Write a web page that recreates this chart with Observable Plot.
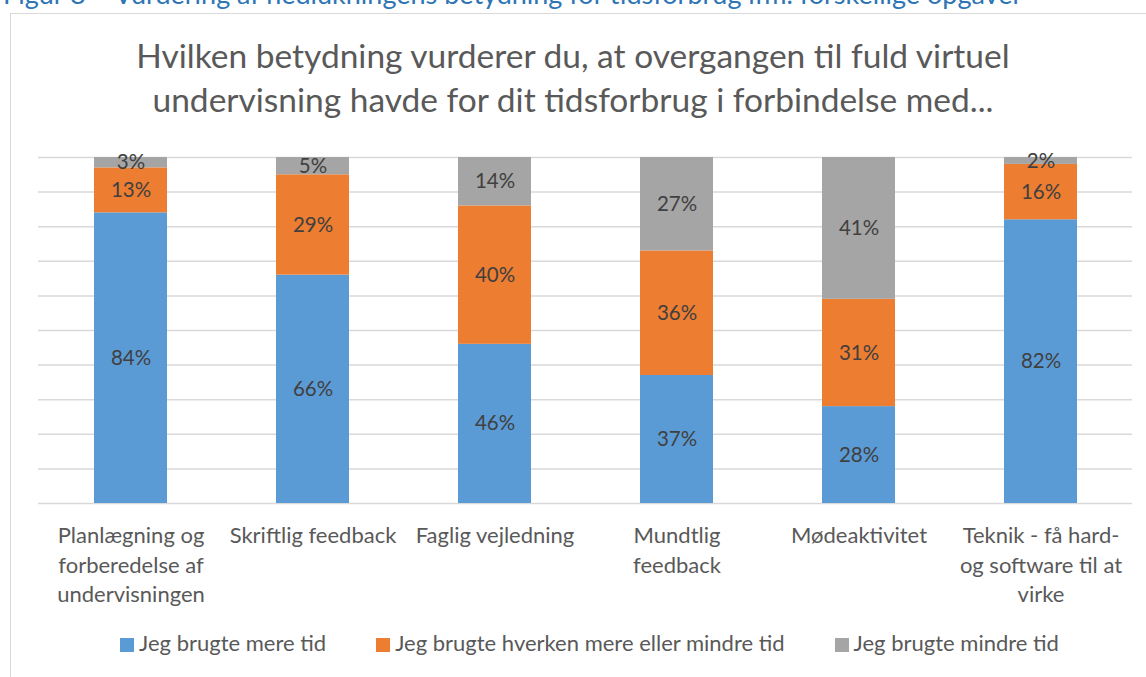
<!DOCTYPE html>
<html><head><meta charset="utf-8">
<script src="https://cdn.jsdelivr.net/npm/d3@7"></script>
<script src="https://cdn.jsdelivr.net/npm/@observablehq/plot@0.6"></script>
<style>
body{margin:0;background:#fff;}
#wrap{position:relative;width:1146px;height:677px;overflow:hidden;font-family:Lato,"Open Sans",sans-serif;background:#fff;}
#caption{position:absolute;left:3px;top:-23px;font-size:27px;line-height:normal;color:#2E75B6;white-space:nowrap;}
#frame{position:absolute;left:10px;top:13px;width:1200px;height:700px;border:1.5px solid #d9d9d9;box-sizing:border-box;}
#title{position:absolute;left:0;top:33px;width:1146px;text-align:center;font-size:33.5px;line-height:44px;color:#595959;}
#chart{position:absolute;left:0;top:140px;}
#legend{position:absolute;left:33px;top:630px;width:1113px;display:flex;justify-content:center;gap:50px;font-size:22px;line-height:26px;color:#595959;}
#legend .item{display:flex;align-items:center;gap:5px;}
#legend .sw{width:14px;height:14px;display:inline-block;margin-top:3px;}
</style></head><body>
<div id="wrap">
<div id="caption">Figur 8 – Vurdering af nedlukningens betydning for tidsforbrug ifm. forskellige opgaver</div>
<div id="frame"></div>
<div id="title">Hvilken betydning vurderer du, at overgangen til fuld virtuel<br>undervisning havde for dit tidsforbrug i forbindelse med...</div>
<div id="chart"></div>
<div id="legend"></div>
</div>
<script>
const categories = ["Planlægning og forberedelse af undervisningen","Skriftlig feedback","Faglig vejledning","Mundtlig feedback","Mødeaktivitet","Teknik - få hard- og software til at virke"];
const tickLabels = ["Planlægning og\nforberedelse af\nundervisningen","Skriftlig feedback","Faglig vejledning","Mundtlig\nfeedback","Mødeaktivitet","Teknik - få hard-\nog software til at\nvirke"];
const seriesNames = ["Jeg brugte mere tid","Jeg brugte hverken mere eller mindre tid","Jeg brugte mindre tid"];
const seriesColors = ["#5B9BD5","#ED7D31","#A5A5A5"];
const moreTime = [84,66,46,37,28,82];
const neitherTime = [13,29,40,36,31,16];
const lessTime = [3,5,14,27,41,2];
const gridTicks = [0,10,20,30,40,50,60,70,80,90,100];

const seriesValues = [moreTime, neitherTime, lessTime];
const data = [];
seriesNames.forEach((s, si) => categories.forEach((c, ci) => data.push({category: c, series: s, value: seriesValues[si][ci]})));

const chart = Plot.plot({
  width: 1146, height: 470,
  marginTop: 17, marginBottom: 107, marginLeft: 38, marginRight: 14,
  style: {fontFamily: "Lato, 'Open Sans', sans-serif", fontSize: "22px", background: "transparent"},
  x: {domain: categories, paddingInner: 0.6, paddingOuter: 0.3, label: null},
  y: {domain: [0, 100], axis: null},
  color: {domain: seriesNames, range: seriesColors},
  marks: [
    Plot.ruleY(gridTicks, {stroke: "#d9d9d9", strokeWidth: 1.5}),
    Plot.barY(data, {x: "category", y: "value", fill: "series"}),
    Plot.text(data, Plot.stackY({x: "category", y: "value", z: "series", text: d => d.value + "%", fill: "#404040", fontSize: 20.5})),
    Plot.axisX({tickSize: 0, tickPadding: 19, fontSize: 22, fill: "#595959", lineHeight: 1.33, tickFormat: d => tickLabels[categories.indexOf(d)], label: null})
  ]
});
document.getElementById("chart").appendChild(chart);

const legend = document.getElementById("legend");
seriesNames.forEach((s, i) => {
  const it = document.createElement("div"); it.className = "item";
  const sw = document.createElement("span"); sw.className = "sw"; sw.style.background = seriesColors[i];
  const tx = document.createElement("span"); tx.textContent = s;
  it.appendChild(sw); it.appendChild(tx); legend.appendChild(it);
});
</script>
</body></html>
